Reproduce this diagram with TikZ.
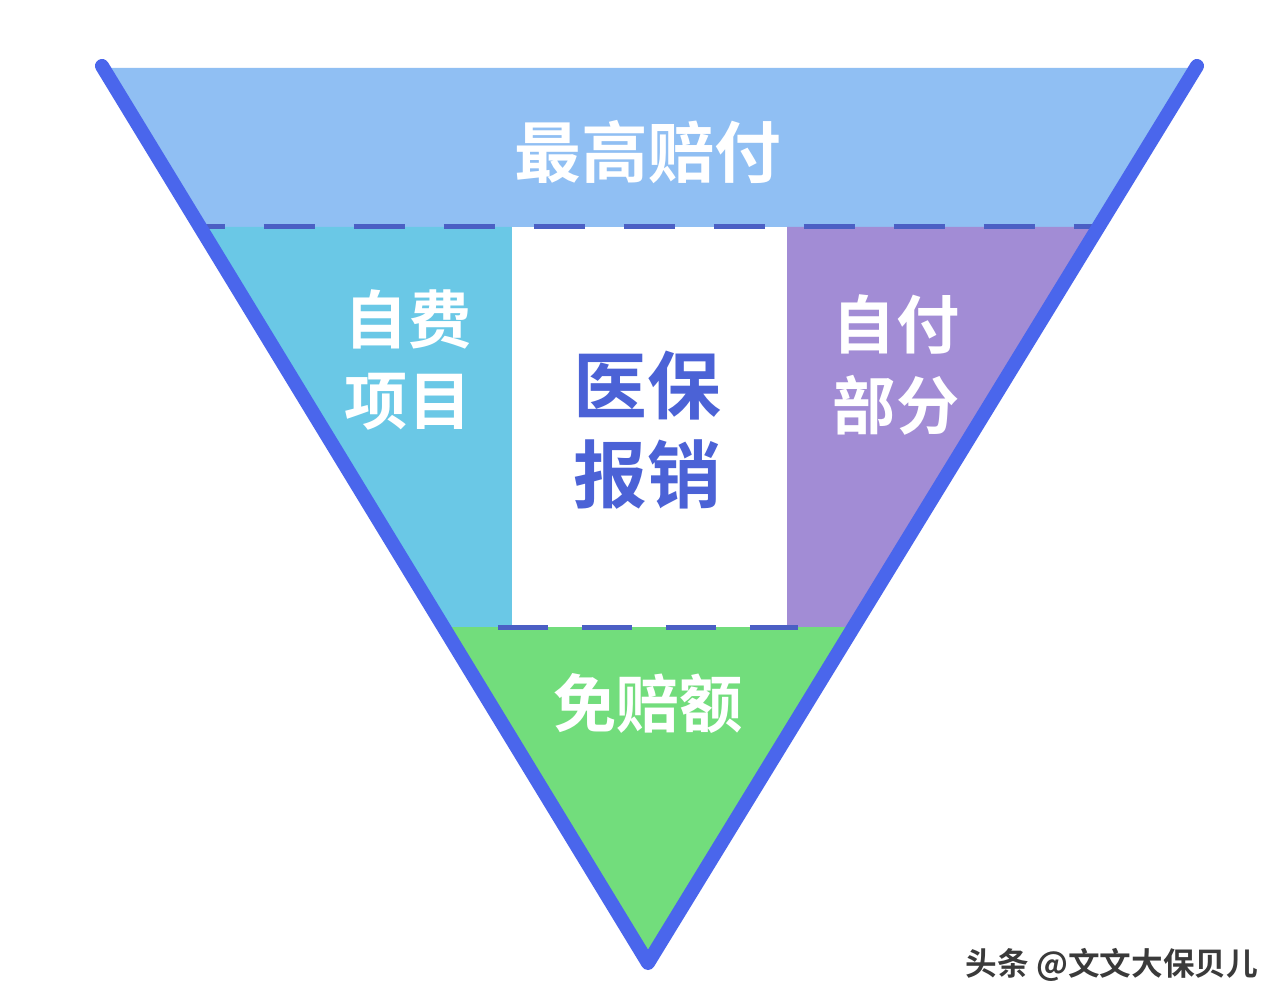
\documentclass[tikz,border=0pt]{standalone}
\usepackage{fontspec}
\newfontfamily\cjk{Noto Sans CJK SC}[BoldFont={Noto Sans CJK SC Bold}]
\definecolor{topband}{HTML}{90BFF3}
\definecolor{cyanband}{HTML}{6AC8E6}
\definecolor{purpleband}{HTML}{A28CD5}
\definecolor{greenband}{HTML}{72DD7C}
\definecolor{edgeblue}{HTML}{4A66EC}
\definecolor{dashblue}{HTML}{4B5FC4}
\definecolor{textblue}{HTML}{4B62D6}
\definecolor{markgray}{HTML}{3A3A3A}
\tikzset{
  whitelabel/.style={text=white, font=\cjk\bfseries\fontsize{36}{46}\selectfont, align=center, inner sep=0pt},
  bluelabel/.style={text=textblue, font=\cjk\bfseries\fontsize{42}{51}\selectfont, align=center, inner sep=0pt},
  edge/.style={draw=edgeblue, line width=0.28cm, line cap=round, line join=round},
  sepline/.style={draw=dashblue, line width=0.1cm}
}
\begin{document}
\begin{tikzpicture}[x=0.02cm, y=-0.02cm]
\useasboundingbox[fill=white] (0,0) rectangle (1285,1003);
% vertices
\coordinate (TL) at (102,66);
\coordinate (TR) at (1197,66);
\coordinate (B) at (648,963);
% regions
\fill[topband] (108,68) -- (1192,68) -- (1098.5,227) -- (200,227) -- cycle;
\fill[cyanband] (200,227) -- (512,227) -- (512,627) -- (443.5,627) -- cycle;
\fill[white] (512,227) rectangle (787,627);
\fill[purpleband] (787,227) -- (1098.5,227) -- (853.6,627) -- (787,627) -- cycle;
\fill[greenband] (443.5,627) -- (853.6,627) -- (B) -- cycle;
% separators
\coordinate (S1a) at (203,227);
\coordinate (S1b) at (1096,227);
\coordinate (S2a) at (498,627);
\coordinate (S2b) at (798,627);
\draw[sepline, dash pattern=on 1.02cm off 0.78cm, dash phase=0.58cm] (S1a) -- (S1b);
\draw[sepline, dash pattern=on 1.0cm off 0.68cm] (S2a) -- (S2b);
% outline
\draw[edge] (TL) -- (B) -- (TR);
% labels
\node[whitelabel, font=\cjk\bfseries\fontsize{38}{46}\selectfont] (top) at (648,152) {最高赔付};
\node[whitelabel] (left) at (408,360) {自费\\项目};
\node[bluelabel] (mid) at (647,430) {医保\\报销};
\node[whitelabel] (right) at (896,365) {自付\\部分};
\node[whitelabel] (bottom) at (648,703) {免赔额};
\node[text=markgray, font=\cjk\bfseries\fontsize{18}{20}\selectfont, inner sep=0pt] (mark) at (1112,965) {头条 @文文大保贝儿};
\end{tikzpicture}
\end{document}
